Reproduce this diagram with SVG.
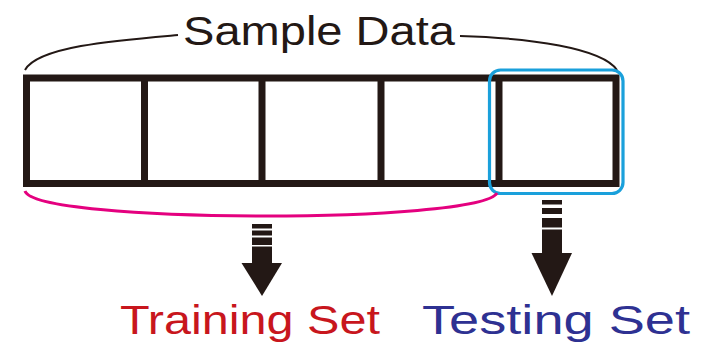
<svg xmlns="http://www.w3.org/2000/svg" width="708" height="346" viewBox="0 0 708 346">
<style>
.lbl{font-family:"Liberation Sans","Noto Sans",Arial,sans-serif;}
.cell{fill:none;stroke:#231815;stroke-width:7;}
.arrow{fill:#231815;}
</style>
<rect width="708" height="346" fill="#ffffff"/>
<g id="sample-data">
  <path d="M25,70 C38,46 120,40 178,35" fill="none" stroke="#231815" stroke-width="2"/>
  <path d="M460,36 C530,38 602,48 617,70" fill="none" stroke="#231815" stroke-width="2"/>
  <text class="lbl" x="183" y="45" font-size="41" fill="#231815" textLength="272" lengthAdjust="spacingAndGlyphs">Sample Data</text>
</g>
<g id="cells">
  <rect class="cell" x="26.5" y="78" width="589.5" height="105.5"/>
  <line class="cell" x1="144.5" y1="78" x2="144.5" y2="183.5"/>
  <line class="cell" x1="262" y1="78" x2="262" y2="183.5"/>
  <line class="cell" x1="381" y1="78" x2="381" y2="183.5"/>
  <line class="cell" x1="499" y1="78" x2="499" y2="183.5"/>
</g>
<g id="testing-box">
  <rect x="489.5" y="70" width="133.5" height="123.5" rx="11" fill="none" stroke="#1aa0db" stroke-width="3.2"/>
</g>
<g id="training-brace">
  <path d="M25,191 C35,224 480,224 497,193" fill="none" stroke="#e4007f" stroke-width="3"/>
</g>
<g id="connectors">
  <g id="arrow-train">
    <rect class="arrow" x="252" y="224" width="20" height="4.5"/>
    <rect class="arrow" x="252" y="230.5" width="20" height="5"/>
    <rect class="arrow" x="252" y="237.5" width="20" height="7.5"/>
    <rect class="arrow" x="252" y="246.5" width="20" height="17"/>
    <polygon class="arrow" points="241.5,263 282,263 262,296"/>
  </g>
  <g id="arrow-test">
    <rect class="arrow" x="542" y="200" width="20" height="4.5"/>
    <rect class="arrow" x="542" y="208" width="20" height="6"/>
    <rect class="arrow" x="542" y="218" width="20" height="9.5"/>
    <rect class="arrow" x="542" y="229.5" width="20" height="24"/>
    <polygon class="arrow" points="531.5,253 572,253 552,296"/>
  </g>
</g>
<g id="training-set">
  <text class="lbl" x="120" y="334" font-size="41" fill="#c8161d" textLength="260" lengthAdjust="spacingAndGlyphs">Training Set</text>
</g>
<g id="testing-set">
  <text class="lbl" x="422" y="334" font-size="41" fill="#2e3192" textLength="268" lengthAdjust="spacingAndGlyphs">Testing Set</text>
</g>
</svg>
